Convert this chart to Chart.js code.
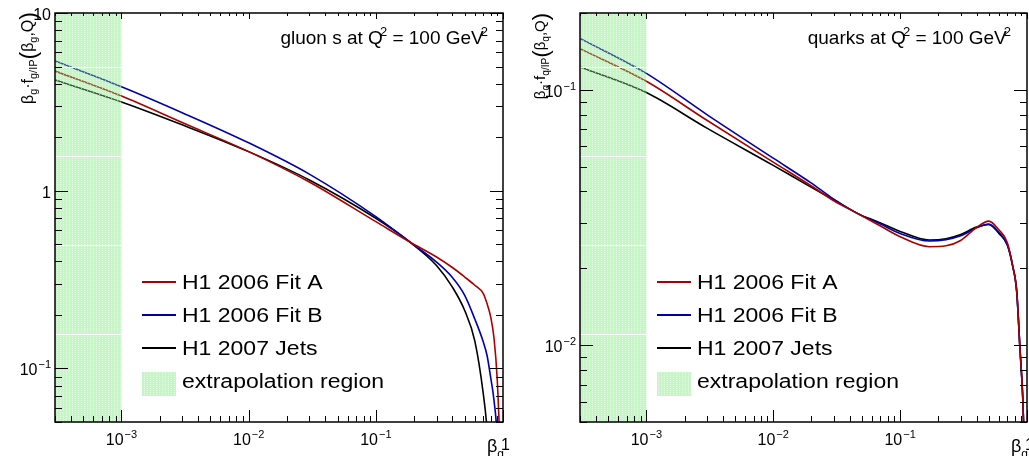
<!DOCTYPE html>
<html>
<head>
<meta charset="utf-8">
<script src="https://cdn.jsdelivr.net/npm/chart.js@4.4.1/dist/chart.umd.min.js"></script>
<style>
html,body{margin:0;padding:0;background:#fff;}
#wrap{position:relative;width:1029px;height:456px;overflow:hidden;}
.pane{position:absolute;top:0;height:456px;}
</style>
</head>
<body>
<div id="wrap">
 <div class="pane" style="left:0;width:514px"><canvas id="gluonID" width="514" height="456"></canvas></div>
 <div class="pane" style="left:514px;width:515px"><canvas id="quarkID" width="515" height="456"></canvas></div>
</div>

<script>
// gluon density at Q2 = 100 GeV2
var gluonBeta=[3e-4,1e-3,3e-3,0.01,0.03,0.1,0.185,0.3,0.4,0.5,0.6,0.7,0.75,0.8,0.85,0.9,0.95];
var gluonFitA=[4.71,3.41,2.42,1.66,1.12,0.67,0.515,0.424,0.37,0.327,0.294,0.264,0.231,0.195,0.148,0.088,0.035];
var gluonFitB=[5.37,3.85,2.75,1.86,1.24,0.715,0.515,0.397,0.325,0.258,0.190,0.141,0.118,0.089,0.066,0.04,0.01];
var gluonJets=[4.2,3.16,2.35,1.66,1.15,0.70,0.515,0.380,0.287,0.212,0.143,0.072,0.045,0.02,0.01,0.005,0.002];
// quark singlet density at Q2 = 100 GeV2
var quarkBeta=[3e-4,1e-3,3e-3,0.01,0.02,0.03,0.0456,0.07,0.1,0.17,0.23,0.3,0.4,0.5,0.6,0.7,0.77,0.83,0.88,0.925,0.96];
var quarkFitA=[0.145,0.108,0.076,0.0521,0.0420,0.0368,0.0329,0.0293,0.0266,0.0243,0.0245,0.0257,0.0289,0.0306,0.0283,0.0252,0.0205,0.0162,0.0097,0.0063,0.0035];
var quarkFitB=[0.159,0.116,0.080,0.0540,0.0431,0.0373,0.0329,0.0298,0.0274,0.0256,0.0259,0.0268,0.0288,0.0298,0.0277,0.0247,0.0205,0.0162,0.0097,0.0063,0.0035];
var quarkJets=[0.123,0.0976,0.0708,0.0506,0.0415,0.0371,0.0329,0.0301,0.0279,0.0258,0.0261,0.0271,0.0290,0.0297,0.0274,0.0247,0.0205,0.0162,0.0097,0.0063,0.0035];

var seriesNames=['H1 2006 Fit A','H1 2006 Fit B','H1 2007 Jets'];
var seriesColors=['#aa0000','#0000aa','#000000'];
var extrapLabel='extrapolation region';
var extrapEdge=1e-3;

var FONT='"Liberation Sans", Arial, Helvetica, sans-serif';

function pts(xs,ys) {
 return xs.map(function(x,i){return {x:x,y:ys[i]};});
}
function runWidth(ctx,parts) {
 var w=0;
 for (var i=0;i<parts.length;i++) {ctx.font=parts[i].s+'px '+FONT; w+=ctx.measureText(parts[i].t).width+(parts[i].dx||0);}
 return w;
}
function drawRun(ctx,parts,x,y) {
 for (var i=0;i<parts.length;i++) {
  var p=parts[i];
  ctx.font=p.s+'px '+FONT;
  x+=(p.dx||0);
  ctx.fillText(p.t,x,y+(p.dy||0));
  x+=ctx.measureText(p.t).width;
 }
}
function powParts(e) {
 if (e==0) return [{t:'1',s:16}];
 if (e==1) return [{t:'10',s:16}];
 return [{t:'10',s:16},{t:'\u2212'+(-e),s:11,dy:-7,dx:1}];
}

var hatch=null;
function hatchPattern(ctx) {
 if (hatch) return hatch;
 var c=document.createElement('canvas');
 c.width=3; c.height=2;
 var g=c.getContext('2d');
 g.fillStyle='rgba(120,232,120,0.42)'; g.fillRect(0,0,3,2);
 g.fillStyle='rgba(255,255,255,0.55)'; g.fillRect(0,0,1,1);
 hatch=ctx.createPattern(c,'repeat');
 return hatch;
}
function greenBox(ctx,x0,y0,x1,y1,seams) {
 ctx.save();
 ctx.fillStyle=hatchPattern(ctx);
 ctx.fillRect(x0,y0,x1-x0,y1-y0);
 if (seams) {
  ctx.fillStyle='#ffffff';
  for (var y=67;y<y1;y+=89) {ctx.fillRect(x0,y,x1-x0,1);}
 }
 ctx.restore();
}

var rootStyle={
 id:'rootStyle',
 afterDatasetsDraw:function(chart,args,opt) {
  var a=chart.chartArea, xs=chart.scales.x;
  var ctx=chart.ctx;
  var xe=xs.getPixelForValue(extrapEdge);
  greenBox(ctx,a.left,a.top,xe,a.bottom,true);
 },
 afterDraw:function(chart,args,opt) {
  var ctx=chart.ctx, a=chart.chartArea, xs=chart.scales.x, ys=chart.scales.y;
  ctx.save();
  ctx.strokeStyle='#000'; ctx.fillStyle='#000';
  // ticks, inside the frame on all four sides
  ctx.lineWidth=1;
  ctx.beginPath();
  var e, m, v, p, len;
  for (e=Math.floor(Math.log10(xs.min));e<=0;e++) {
   for (m=1;m<10;m++) {
    v=m*Math.pow(10,e);
    if (v<xs.min*0.999||v>xs.max*1.001) continue;
    p=Math.round(xs.getPixelForValue(v))+0.5;
    len=(m==1)?12:6;
    ctx.moveTo(p,a.bottom); ctx.lineTo(p,a.bottom-len);
    ctx.moveTo(p,a.top); ctx.lineTo(p,a.top+len*0.5);
   }
  }
  for (e=Math.floor(Math.log10(ys.min));e<=Math.ceil(Math.log10(ys.max));e++) {
   for (m=1;m<10;m++) {
    v=m*Math.pow(10,e);
    if (v<ys.min*0.999||v>ys.max*1.001) continue;
    p=Math.round(ys.getPixelForValue(v))+0.5;
    len=(m==1)?13:7;
    ctx.moveTo(a.left,p); ctx.lineTo(a.left+len,p);
    ctx.moveTo(a.right,p); ctx.lineTo(a.right-len,p);
   }
  }
  ctx.stroke();
  // frame
  ctx.lineWidth=1.5;
  ctx.strokeRect(a.left,a.top,a.right-a.left,a.bottom-a.top);

  // x labels
  ctx.textBaseline='alphabetic';
  for (e=Math.ceil(Math.log10(xs.min));e<=0;e++) {
   p=xs.getPixelForValue(Math.pow(10,e));
   var parts=powParts(e);
   if (e==0) {drawRun(ctx,parts,p-2,450);}
   else {drawRun(ctx,parts,p-runWidth(ctx,parts)/2,445);}
  }
  // y labels
  for (e=Math.ceil(Math.log10(ys.min));e<=Math.floor(Math.log10(ys.max)+1e-9);e++) {
   p=ys.getPixelForValue(Math.pow(10,e));
   var yp=powParts(e);
   drawRun(ctx,yp,a.left-4-runWidth(ctx,yp),p+7);
  }
  // x axis title
  drawRun(ctx,[{t:'\u03b2',s:18},{t:opt.flav,s:12,dy:6}],a.right-16,452);

  // y axis title, rotated, ending near the top
  var yt=[{t:'\u03b2',s:opt.ytSize},{t:opt.flav,s:opt.ytSize*0.68,dy:4},{t:'\u00b7f',s:opt.ytSize},
   {t:opt.flav+'/IP',s:opt.ytSize*0.68,dy:4},{t:'(',s:opt.ytSize*1.45,dy:3},{t:'\u03b2',s:opt.ytSize},
   {t:opt.flav,s:opt.ytSize*0.68,dy:4},{t:',Q',s:opt.ytSize},{t:')',s:opt.ytSize*1.45,dy:3}];
  var tw=runWidth(ctx,yt);
  ctx.save();
  ctx.translate(opt.ytX,opt.ytTop+tw);
  ctx.rotate(-Math.PI/2);
  drawRun(ctx,yt,0,0);
  ctx.restore();

  // header text
  var ht=[{t:opt.header+' at Q',s:19},{t:'2',s:13,dy:-8,dx:-3},{t:' = 100 GeV',s:19},{t:'2',s:13,dy:-8,dx:-3}];
  drawRun(ctx,ht,opt.headerEnd-runWidth(ctx,ht),44);

  // legend
  var lx=opt.legX, rows=[289,322,355];
  ctx.lineWidth=1.8;
  chart.data.datasets.forEach(function(ds,i) {
   ctx.strokeStyle=ds.borderColor;
   ctx.beginPath(); ctx.moveTo(lx,rows[i]-7); ctx.lineTo(lx+34,rows[i]-7); ctx.stroke();
   ctx.save(); ctx.translate(lx+40,rows[i]); ctx.scale(1.15,1);
   ctx.font='20px '+FONT; ctx.fillText(ds.label,0,0);
   ctx.restore();
  });
  greenBox(ctx,lx,372,lx+34,396,false);
  ctx.save(); ctx.translate(lx+40,388); ctx.scale(1.15,1);
  ctx.font='20px '+FONT; ctx.fillText(extrapLabel,0,0);
  ctx.restore();
  ctx.restore();
 }
};

function makeChart(id,beta,sets,ymin,ymax,pad,style) {
 var datasets=sets.map(function(ys,i) {
  return {label:seriesNames[i],data:pts(beta,ys),borderColor:seriesColors[i],borderWidth:1.6,
   pointRadius:0,fill:false,cubicInterpolationMode:'monotone'};
 });
 return new Chart(document.getElementById(id),{
  type:'line',
  data:{datasets:datasets},
  options:{
   responsive:false, animation:false, devicePixelRatio:1,
   layout:{padding:pad},
   plugins:{legend:{display:false},tooltip:{enabled:false},rootStyle:style},
   scales:{
    x:{type:'logarithmic',min:3e-4,max:1,display:false},
    y:{type:'logarithmic',min:ymin,max:ymax,display:false}
   }
  },
  plugins:[rootStyle]
 });
}

makeChart('gluonID',gluonBeta,[gluonFitA,gluonFitB,gluonJets],0.05,10,
 {left:55,right:11,top:13,bottom:34},
 {flav:'g',header:'gluon s',headerEnd:488,legX:142,ytX:33,ytTop:12,ytSize:16});
makeChart('quarkID',quarkBeta,[quarkFitA,quarkFitB,quarkJets],0.005,0.2,
 {left:66,right:2,top:13,bottom:34},
 {flav:'q',header:'quarks',headerEnd:497,legX:143,ytX:31,ytTop:13,ytSize:15});
</script>
</body>
</html>
